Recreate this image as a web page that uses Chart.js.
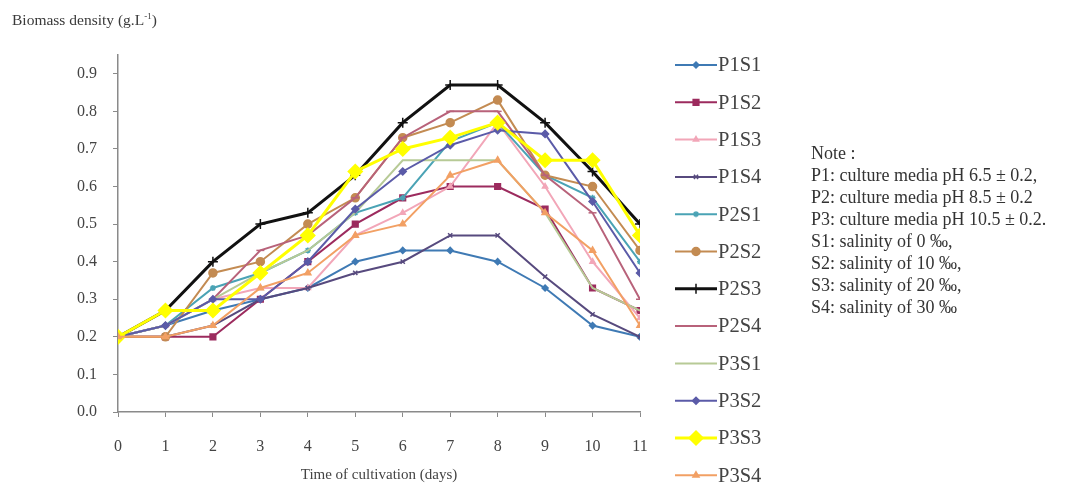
<!DOCTYPE html>
<html>
<head>
<meta charset="utf-8">
<script src="https://cdn.jsdelivr.net/npm/chart.js@4"></script>
<style>
  body { margin: 0; background: #fff; }
  #wrap { position: relative; width: 1081px; height: 487px; }
  #yTitle {
    position: absolute; left: 12px; top: 11px;
    font: 15.5px "Liberation Serif", serif; color: #3a3a3a;
  }
  #yTitle sup { font-size: 9px; }
  #note {
    position: absolute; left: 811px; top: 142px;
    font: 18px "Liberation Serif", serif; line-height: 22px; color: #333;
  }
</style>
</head>
<body>
<div id="wrap">
  <canvas id="biomassChart" width="1081" height="487"></canvas>
  <div id="yTitle">Biomass density (g.L<sup>-1</sup>)</div>
  <div id="note">
    Note :<br>
    P1: culture media pH 6.5 ± 0.2,<br>
    P2: culture media pH 8.5 ± 0.2<br>
    P3: culture media pH 10.5 ± 0.2.<br>
    S1: salinity of 0 ‰,<br>
    S2: salinity of 10 ‰,<br>
    S3: salinity of 20 ‰,<br>
    S4: salinity of 30 ‰
  </div>
</div>
<script>
// Дни культивирования (ось X) и деления оси Y
const days = [0, 1, 2, 3, 4, 5, 6, 7, 8, 9, 10, 11];
const yTicks = [0, 0.1, 0.2, 0.3, 0.4, 0.5, 0.6, 0.7, 0.8, 0.9];

const seriesNames = [
  "P1S1", "P1S2", "P1S3", "P1S4",
  "P2S1", "P2S2", "P2S3", "P2S4",
  "P3S1", "P3S2", "P3S3", "P3S4",
];

// Плотность биомассы (g/L)
const p1s1 = [0.20, 0.23, 0.27, 0.30, 0.33, 0.40, 0.43, 0.43, 0.40, 0.33, 0.23, 0.20];
const p1s2 = [0.20, 0.20, 0.20, 0.30, 0.40, 0.50, 0.57, 0.60, 0.60, 0.54, 0.33, 0.27];
const p1s3 = [0.20, 0.23, 0.30, 0.33, 0.33, 0.47, 0.53, 0.60, 0.77, 0.60, 0.40, 0.25];
const p1s4 = [0.20, 0.20, 0.23, 0.30, 0.33, 0.37, 0.40, 0.47, 0.47, 0.36, 0.26, 0.20];
const p2s1 = [0.20, 0.23, 0.33, 0.37, 0.43, 0.53, 0.57, 0.72, 0.77, 0.63, 0.57, 0.40];
const p2s2 = [0.20, 0.20, 0.37, 0.40, 0.50, 0.57, 0.73, 0.77, 0.83, 0.63, 0.60, 0.43];
const p2s3 = [0.20, 0.27, 0.40, 0.50, 0.53, 0.63, 0.77, 0.87, 0.87, 0.77, 0.64, 0.50];
const p2s4 = [0.20, 0.23, 0.30, 0.43, 0.47, 0.57, 0.73, 0.80, 0.80, 0.63, 0.53, 0.30];
const p3s1 = [0.20, 0.23, 0.30, 0.37, 0.43, 0.53, 0.67, 0.67, 0.67, 0.53, 0.33, 0.27];
const p3s2 = [0.20, 0.23, 0.30, 0.30, 0.40, 0.54, 0.64, 0.71, 0.75, 0.74, 0.56, 0.37];
const p3s3 = [0.20, 0.27, 0.27, 0.37, 0.47, 0.64, 0.70, 0.73, 0.77, 0.67, 0.67, 0.47];
const p3s4 = [0.20, 0.20, 0.23, 0.33, 0.37, 0.47, 0.50, 0.63, 0.67, 0.53, 0.43, 0.23];

const seriesValues = [p1s1, p1s2, p1s3, p1s4, p2s1, p2s2, p2s3, p2s4, p3s1, p3s2, p3s3, p3s4];

// Стили линий и маркеров
const seriesColors = [
  "#3f7ab4", "#9c2b5e", "#f2a6b8", "#574a7e",
  "#4aa3b5", "#c38b52", "#111111", "#b8627a",
  "#b7ca96", "#5b5ba8", "#ffff00", "#f2a064",
];
const pointStyles = [
  "rectRot", "rect", "triangle", "crossRot",
  "star", "circle", "cross", "line",
  false, "rectRot", "rectRot", "triangle",
];
const pointSizes = [3, 4, 3, 3, 3, 4, 5, 4, 0, 3.5, 7, 3.5];
const lineWidths = [2, 2, 2, 2, 2, 2, 3, 2, 2, 2, 3, 2];

const serif = "'Liberation Serif', 'Times New Roman', serif";
const axisColor = "#8a8a8a";

// Легенда справа: линия с маркером и подпись
const sideLegend = {
  id: "sideLegend",
  afterDraw(chart) {
    const ctx = chart.ctx;
    ctx.save();
    chart.data.datasets.forEach((ds, i) => {
      const y = 65 + i * 37.3;
      ctx.strokeStyle = ds.borderColor;
      ctx.lineWidth = ds.borderWidth;
      ctx.beginPath();
      ctx.moveTo(675, y);
      ctx.lineTo(717, y);
      ctx.stroke();
      if (ds.pointStyle) {
        ctx.fillStyle = ds.backgroundColor;
        ctx.strokeStyle = ds.borderColor;
        ctx.lineWidth = 1.5;
        Chart.helpers.drawPoint(ctx, {
          pointStyle: ds.pointStyle,
          radius: ds.pointRadius,
          rotation: 0,
          borderWidth: 1.5,
        }, 696, y);
      }
      ctx.fillStyle = "#444";
      ctx.font = "20.5px " + serif;
      ctx.textBaseline = "middle";
      ctx.fillText(ds.label, 718, y + 1);
    });
    ctx.restore();
  },
};

const ctx = document.getElementById("biomassChart").getContext("2d");

new Chart(ctx, {
  type: "line",
  data: {
    labels: days,
    datasets: seriesNames.map((name, i) => ({
      label: name,
      data: seriesValues[i],
      borderColor: seriesColors[i],
      backgroundColor: seriesColors[i],
      borderWidth: lineWidths[i],
      pointStyle: pointStyles[i],
      pointRadius: pointSizes[i],
      pointBorderWidth: 1.5,
      tension: 0,
      fill: false,
      order: seriesNames.length - i,
    })),
  },
  options: {
    responsive: false,
    animation: false,
    layout: { padding: { top: 55, right: 441, left: 0, bottom: 0 } },
    plugins: {
      legend: { display: false },
      tooltip: { enabled: false },
    },
    scales: {
      x: {
        type: "linear",
        min: 0,
        max: 11,
        afterBuildTicks: (scale) => {
          scale.ticks = days.map((d) => ({ value: d }));
        },
        afterFit: (scale) => {
          scale.height = 75;
        },
        grid: {
          drawOnChartArea: false,
          tickLength: 5,
          color: axisColor,
        },
        border: { color: axisColor, width: 1.5 },
        ticks: {
          padding: 20,
          color: "#444",
          font: { family: serif, size: 16 },
        },
        title: {
          display: true,
          text: "Time of cultivation (days)",
          color: "#444",
          font: { family: serif, size: 15 },
          padding: { top: 0, bottom: 3 },
        },
      },
      y: {
        min: 0,
        max: 0.95,
        afterBuildTicks: (scale) => {
          scale.ticks = yTicks.map((v) => ({ value: v }));
        },
        afterFit: (scale) => {
          scale.width = 118;
        },
        grid: {
          drawOnChartArea: false,
          tickLength: 5,
          color: axisColor,
        },
        border: { color: axisColor, width: 1.5 },
        ticks: {
          padding: 16,
          color: "#444",
          font: { family: serif, size: 16 },
          callback: (v) => Number(v).toFixed(1),
        },
      },
    },
  },
  plugins: [sideLegend],
});
</script>
</body>
</html>
